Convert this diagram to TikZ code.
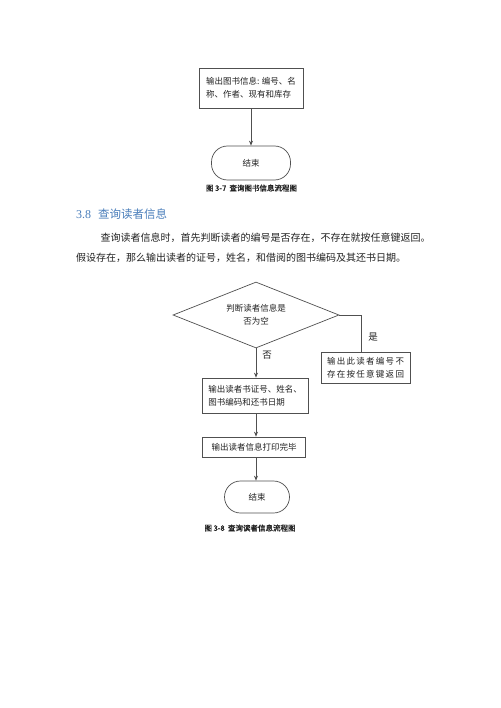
\documentclass[tikz,border=0pt]{standalone}
\usepackage{fontspec}
\setmainfont{Noto Sans CJK SC}
\newfontfamily\latinfont{Liberation Serif}
\newfontfamily\capfont[FakeBold=1.5]{Noto Sans CJK SC}
\usetikzlibrary{shapes.geometric,arrows.meta}
\definecolor{linegray}{HTML}{505050}
\definecolor{headblue}{HTML}{4A7EBB}
\definecolor{txt}{HTML}{222222}
\tikzset{
  procbox/.style={draw=linegray, line width=0.7pt, rectangle, inner sep=0pt, text=txt,
    font=\fontsize{8.5}{13}\selectfont, align=left},
  termbox/.style={draw=linegray, line width=0.7pt, rectangle, rounded corners=16pt, inner sep=0pt,
    text=txt, font=\fontsize{8.5}{10}\selectfont},
  decbox/.style={draw=linegray, line width=0.7pt, diamond, shape aspect=2.5, inner sep=0pt,
    text=txt, font=\fontsize{8.5}{13}\selectfont, align=center},
  flow/.style={draw=linegray, line width=0.7pt, -{Stealth[length=5pt,width=4pt]}},
  plain/.style={draw=linegray, line width=0.7pt},
  caption/.style={inner sep=0pt, text=txt, font=\capfont\fontsize{7.5}{9}\selectfont},
  lbl/.style={inner sep=0pt, text=txt, font=\fontsize{9.5}{11}\selectfont},
  para/.style={inner sep=0pt, anchor=west, text=txt, font=\fontsize{10}{12}\selectfont}
}
\begin{document}
\begin{tikzpicture}[x=1pt,y=-1pt]
\useasboundingbox[fill=white] (0,0) rectangle (500,708);

% figure 3-7 (end part)
\node[procbox, minimum width=104pt, minimum height=40pt] (out1) at (251,88)
  {输出图书信息: 编号、名\\称、作者、现有和库存};
\node[termbox, minimum width=79pt, minimum height=34pt] (end1) at (251,163) {结束};
\draw[flow] (out1.south) -- (end1.north);
\node[caption] (cap1) at (251.5,188) {图 3-7\ \ 查询图书信息流程图};

% heading and paragraph
\node[inner sep=0pt, anchor=west, text=headblue, font=\fontsize{11.5}{13}\selectfont] (head) at (76,214)
  {{\latinfont\fontsize{12}{13}\selectfont 3.8}\hspace{7pt}查询读者信息};
\node[para] (p1) at (100.5,238) {查询读者信息时，首先判断读者的编号是否存在，不存在就按任意键返回。};
\node[para] (p2) at (76,258) {假设存在，那么输出读者的证号，姓名，和借阅的图书编码及其还书日期。};

% figure 3-8
\node[decbox, minimum width=166pt, minimum height=66pt] (dec) at (256,315)
  {判断读者信息是\\否为空};
\node[procbox, minimum width=89pt, minimum height=31pt] (nobox) at (365.5,367.5)
  {\makebox[77pt][s]{输\hfil 出\hfil 此\hfil 读\hfil 者\hfil 编\hfil 号\hfil 不}\\
   \makebox[77pt][s]{存\hfil 在\hfil 按\hfil 任\hfil 意\hfil 键\hfil 返\hfil 回}};
\coordinate (turn) at (361.7,315);
\draw[plain] (dec.east) -- (turn) -- (turn |- nobox.north);
\node[lbl] (yes) at (373,337) {是};

\node[procbox, minimum width=106pt, minimum height=35pt] (out2) at (255,395.5)
  {输出读者书证号、姓名、\\图书编码和还书日期};
\draw[flow] (dec.south) -- (dec.south |- out2.north);
\node[lbl] (no) at (267,355) {否};

\node[procbox, minimum width=103pt, minimum height=20pt] (out3) at (254,447)
  {输出读者信息打印完毕};
\draw[flow] (out2.south -| dec.south) -- (dec.south |- out3.north);

\node[termbox, minimum width=65pt, minimum height=32pt] (end2) at (257,497) {结束};
\draw[flow] (out3.south -| dec.south) -- (dec.south |- end2.north);

\node[caption] (cap2) at (250,528) {图 3-8\ \ 查询读者信息流程图};
\end{tikzpicture}
\end{document}
